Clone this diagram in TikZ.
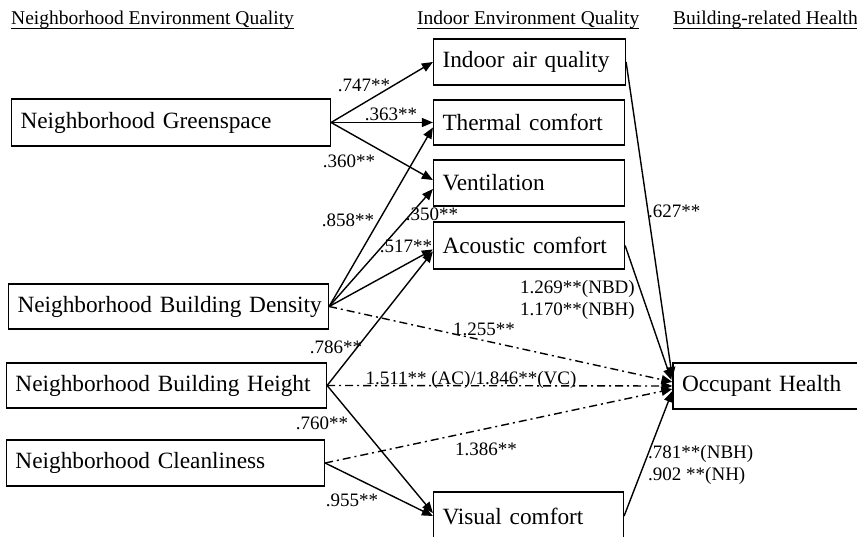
\documentclass[tikz,border=0pt]{standalone}
\usepackage{fontspec}
\setmainfont{Liberation Serif}
\usetikzlibrary{arrows.meta}
\newcommand\boxfont{\fontsize{23.3pt}{28pt}\selectfont}
\newcommand\labfont{\fontsize{19pt}{22pt}\selectfont}
\newcommand\headfont{\fontsize{19.5pt}{23pt}\selectfont}
\tikzset{
  box/.style={draw, line width=1.2pt, rectangle, inner xsep=9pt, inner ysep=0pt, align=left, font=\boxfont},
  arr/.style={line width=1.4pt, -{Triangle[length=11pt,width=9pt]}},
  darr/.style={arr, dash pattern=on 8pt off 4pt on 2pt off 4pt},
  lab/.style={inner sep=0pt, font=\labfont},
  head/.style={inner sep=0pt, font=\headfont, anchor=base west},
  uline/.style={line width=0.9pt}
}
\begin{document}
\begin{tikzpicture}[x=1pt,y=-1pt]
\useasboundingbox (0,0) rectangle (857,537);
\clip (0,0) rectangle (857,537);
% headers
\node[head] (h1) at (11,25) {Neighborhood Environment Quality};
\node[head] (h2) at (417,25) {Indoor Environment Quality};
\node[head] (h3) at (673,25) {Building-related Health};
\foreach \h in {h1,h2,h3}
  \draw[uline] ([yshift=-3.5pt]\h.base west) -- ([yshift=-3.5pt]\h.base east);
% left boxes
\node[box, minimum height=47pt, text width=301pt] (ng) at (171,122.5) {\mbox{Neighborhood Greenspace}};
\node[box, minimum height=45pt, text width=302pt] (nbd) at (168.5,306.5) {\mbox{Neighborhood Building Density}};
\node[box, minimum height=45pt, text width=302pt] (nbh) at (166.5,385.5) {\mbox{Neighborhood Building Height}};
\node[box, minimum height=46pt, text width=300pt] (nc) at (165.5,463) {\mbox{Neighborhood Cleanliness}};
% middle boxes
\node[box, minimum height=46pt, text width=174pt] (iaq) at (529.5,62) {\mbox{Indoor air quality}};
\node[box, minimum height=45pt, text width=173pt] (tc) at (529,122.5) {\mbox{Thermal comfort}};
\node[box, minimum height=46pt, text width=173pt] (ven) at (529,183) {\mbox{Ventilation}};
\node[box, minimum height=47pt, text width=173pt] (ac) at (529,245.5) {\mbox{Acoustic comfort}};
\node[box, minimum height=48pt, text width=172pt] (vc) at (528.5,516) {\mbox{Visual comfort}};
% right box
\node[box, minimum height=46pt, text width=180pt] (oh) at (772,386) {\mbox{Occupant Health}};
% solid paths to indoor
\draw[arr] (ng.east) -- (iaq.west);
\draw[arr] (ng.east) -- (tc.west);
\draw[arr] (ng.east) -- ([yshift=3pt]ven.west);
\draw[arr] (nbd.east) -- ([yshift=-5pt]tc.west);
\draw[arr] (nbd.east) -- ([yshift=-6pt]ven.west);
\draw[arr] (nbd.east) -- ([yshift=-4pt]ac.west);
\draw[arr] (nbh.east) -- ([yshift=-6pt]ac.west);
\draw[arr] (nbh.east) -- ([yshift=3pt]vc.west);
\draw[arr] (nc.east) -- (vc.west);
% dash-dot direct paths
\draw[darr] (nbd.east) -- ([yshift=4pt]oh.west);
\draw[darr] (nbh.east) -- (oh.west);
\draw[darr] (nc.east) -- ([yshift=-3pt]oh.west);
% solid to health
\draw[arr] (iaq.east) -- ([yshift=8pt]oh.west);
\draw[arr] (ac.east) -- ([xshift=-1pt,yshift=6pt]oh.west);
\draw[arr] (vc.east) -- ([yshift=-5pt]oh.west);
% labels
\node[lab] (l1) at (364,85) {.747**};
\node[lab] (l2) at (391,114) {.363**};
\node[lab] (l3) at (349,161) {.360**};
\node[lab] (l4) at (348,220) {.858**};
\node[lab] (l5) at (432,214) {.350**};
\node[lab] (l6) at (406,246) {.517**};
\node[lab] (l7) at (336,347) {.786**};
\node[lab] (l8) at (322,423) {.760**};
\node[lab] (l9) at (352,500) {.955**};
\node[lab] (l10) at (484,329) {1.255**};
\node[lab] (l11) at (471,380) {1.511** (AC)/1.846**(VC)};
\node[lab] (l12) at (486,449) {1.386**};
\node[lab, anchor=west] (l13) at (648,211) {.627**};
\node[lab, align=left, anchor=west] (l14) at (520,300) {1.269**(NBD)\\1.170**(NBH)};
\node[lab, align=left, anchor=west] (l15) at (648,465) {.781**(NBH)\\.902 **(NH)};
\end{tikzpicture}
\end{document}
